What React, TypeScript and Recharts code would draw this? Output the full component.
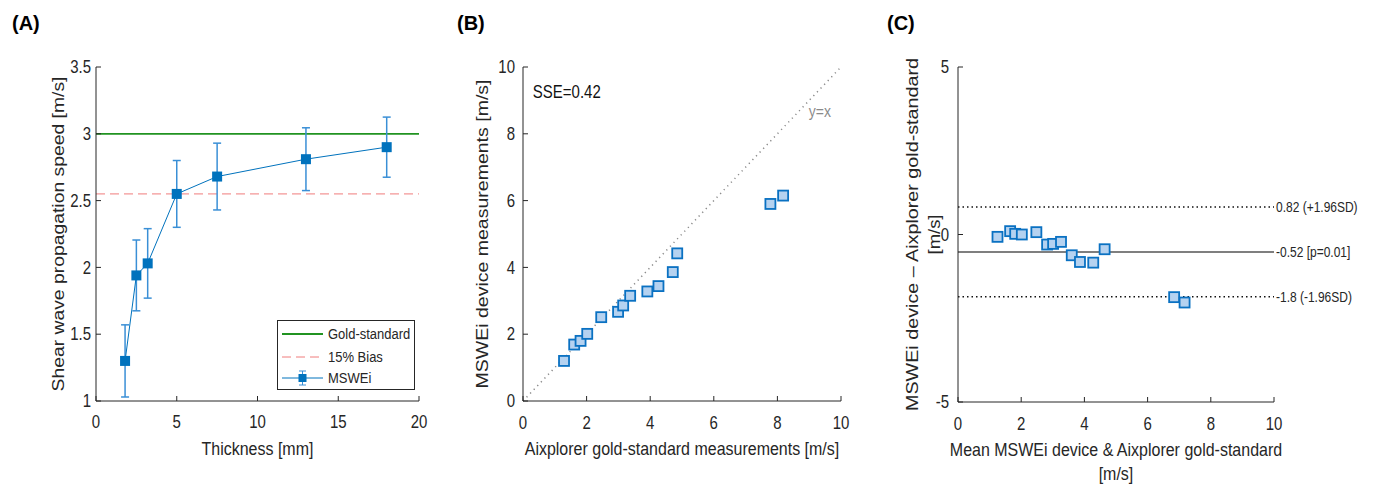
import React from 'react';
import {
  ComposedChart, ScatterChart, Line, Scatter, XAxis, YAxis, ErrorBar,
  ReferenceLine, ReferenceDot, Legend, Label,
} from 'recharts';

// (A) thickness study
const thickness = [1.8, 2.5, 3.2, 5, 7.5, 13, 18];
const mswSpeed = [1.3, 1.94, 2.03, 2.55, 2.68, 2.81, 2.9];
const mswErr = [0.27, 0.265, 0.26, 0.25, 0.25, 0.235, 0.225];
const goldSpeed = 3.0;
const biasSpeed = 2.55;
const ticksAX = [0, 5, 10, 15, 20];
const ticksAY = [1, 1.5, 2, 2.5, 3, 3.5];

// (B) agreement with Aixplorer
const aixplorer = [1.29, 1.61, 1.81, 2.02, 2.46, 2.99, 3.15, 3.37, 3.91, 4.26, 4.71, 4.85, 7.78, 8.18];
const mswei = [1.2, 1.69, 1.8, 2.01, 2.51, 2.67, 2.86, 3.15, 3.28, 3.44, 3.86, 4.42, 5.9, 6.15];
const ticksB = [0, 2, 4, 6, 8, 10];

// (C) Bland-Altman
const baMean = [1.25, 1.65, 1.81, 2.02, 2.48, 2.82, 3.01, 3.26, 3.6, 3.86, 4.28, 4.64, 6.84, 7.17];
const baDiff = [-0.07, 0.1, 0.02, 0, 0.07, -0.3, -0.28, -0.22, -0.62, -0.82, -0.84, -0.44, -1.87, -2.03];
const baBias = -0.52;
const baUpper = 0.82;
const baLower = -1.86;
const ticksCY = [-5, 0, 5];

const INK = '#262626';
const BLUE = '#0072BD';
const SY = 1.18; // source figure is stretched vertically

const dataA = thickness.map((x, i) => ({ x, y: mswSpeed[i], err: mswErr[i] }));
const dataB = aixplorer.map((x, i) => ({ x, y: mswei[i] }));
const dataC = baMean.map((x, i) => ({ x, y: baDiff[i] }));

const stretch = (y: number) => `translate(0 ${y}) scale(1 ${SY}) translate(0 ${-y})`;

const BottomTick = (p: any) => (
  <text x={p.x} y={p.y} dy="0.71em" textAnchor="middle" fill={INK} fontSize={15} transform={stretch(p.y)}>
    {p.payload.value}
  </text>
);
const LeftTick = (p: any) => (
  <text x={p.x} y={p.y} dy="0.355em" textAnchor="end" fill={INK} fontSize={15} transform={stretch(p.y)}>
    {p.payload.value}
  </text>
);

const Square = (p: any) => (
  <rect x={p.cx - 5} y={p.cy - 5} width={10} height={10} fill="#b5d2f0" stroke="#0a71c2" strokeWidth={1.8} />
);

const xTitle = (lines: string[], baselines: number[]) => (props: any) => {
  const vb = props.viewBox;
  const cx = vb.x + vb.width / 2;
  return (
    <g>
      {lines.map((t, i) => {
        const y = vb.y + baselines[i];
        return (
          <text key={i} x={cx} y={y} textAnchor="middle" fontSize={16} fill={INK} transform={stretch(y)}>{t}</text>
        );
      })}
    </g>
  );
};

const yTitle = (lines: string[], xs: number[], lengths: number[]) => (props: any) => {
  const vb = props.viewBox;
  const cy = vb.y + vb.height / 2;
  return (
    <g>
      {lines.map((t, i) => {
        const cx = vb.x + xs[i];
        return (
          <text key={i} x={cx} y={cy} dy="0.35em" transform={`rotate(-90 ${cx} ${cy})`} textAnchor="middle"
            fontSize={16.5} fill={INK} textLength={lengths[i]} lengthAdjust="spacingAndGlyphs">{t}</text>
        );
      })}
    </g>
  );
};

const sideText = (value: string, size: number, fill: string, dx = 0) => (props: any) => {
  const vb = props.viewBox;
  const x = vb.x + vb.width + dx;
  const y = vb.y + vb.height / 2;
  return <text x={x} y={y} dy="0.355em" fontSize={size} fill={fill} transform={stretch(y)}>{value}</text>;
};

const legendItems = ['Gold-standard', '15% Bias', 'MSWEi'];
const legendRows = [14, 37, 58];

const LegendA = () => (
  <svg width={138} height={70} style={{ display: 'block' }}>
    <rect x={0.5} y={0.5} width={137} height={69} fill="#fff" stroke={INK} />
    <line x1={5} x2={46} y1={14} y2={14} stroke="#219321" strokeWidth={1.8} />
    <line x1={5} x2={46} y1={37} y2={37} stroke="#f07c7c" strokeDasharray="9 5" />
    <line x1={5} x2={46} y1={58} y2={58} stroke={BLUE} />
    <line x1={25.5} x2={25.5} y1={51} y2={65} stroke="#3a8fd6" />
    <line x1={22} x2={29} y1={51} y2={51} stroke="#3a8fd6" />
    <line x1={22} x2={29} y1={65} y2={65} stroke="#3a8fd6" />
    <rect x={21.5} y={54} width={8} height={8} fill={BLUE} />
    {legendItems.map((t, i) => (
      <text key={t} x={51} y={legendRows[i]} dy="0.355em" fontSize={13} fill={INK} transform={stretch(legendRows[i])}>{t}</text>
    ))}
  </svg>
);

function PanelA() {
  return (
    <ComposedChart width={450} height={487} data={dataA} margin={{ top: 67, right: 31, bottom: 26, left: 0 }}>
      <XAxis dataKey="x" type="number" domain={[0, 20]} ticks={ticksAX} height={60} stroke={INK}
        tickSize={-5} tickMargin={19} tick={BottomTick}>
        <Label content={xTitle(['Thickness [mm]'], [54])} />
      </XAxis>
      <XAxis xAxisId="top" orientation="top" type="number" domain={[0, 20]} ticks={ticksAX} height={0}
        stroke={INK} tickSize={-5} tick={false} />
      <YAxis type="number" domain={[1, 3.5]} ticks={ticksAY} width={96} stroke={INK}
        tickSize={-5} tickMargin={10} tick={LeftTick}>
        <Label content={yTitle(['Shear wave propagation speed [m/s]'], [58], [315])} />
      </YAxis>
      <YAxis yAxisId="right" orientation="right" type="number" domain={[1, 3.5]} ticks={ticksAY} width={0}
        stroke={INK} tickSize={-5} tick={false} />
      <ReferenceLine y={goldSpeed} stroke="#219321" strokeWidth={1.8} />
      <ReferenceLine y={biasSpeed} stroke="#f07c7c" strokeDasharray="9 5" />
      <Line dataKey="y" stroke={BLUE} strokeWidth={1} isAnimationActive={false}
        dot={(p: any) => <rect key={p.index} x={p.cx - 5} y={p.cy - 5} width={10} height={10} fill={BLUE} />}>
        <ErrorBar dataKey="err" width={4} stroke="#3a8fd6" direction="y" />
      </Line>
      <Legend content={LegendA} layout="vertical" align="center" verticalAlign="middle"
        wrapperStyle={{ left: 277, top: 320, width: 138, height: 70 }} />
    </ComposedChart>
  );
}

function PanelB() {
  return (
    <ScatterChart width={430} height={487} margin={{ top: 67, right: 39, bottom: 26, left: 0 }}>
      <XAxis dataKey="x" type="number" domain={[0, 10]} ticks={ticksB} height={60} stroke={INK}
        tickSize={-5} tickMargin={20} tick={BottomTick}>
        <Label content={xTitle(['Aixplorer gold-standard measurements [m/s]'], [54])} />
      </XAxis>
      <XAxis xAxisId="top" orientation="top" type="number" domain={[0, 10]} ticks={ticksB} height={0}
        stroke={INK} tickSize={-5} tick={false} />
      <YAxis dataKey="y" type="number" domain={[0, 10]} ticks={ticksB} width={73} stroke={INK}
        tickSize={-5} tickMargin={13} tick={LeftTick}>
        <Label content={yTitle(['MSWEi device measurements  [m/s]'], [32], [309])} />
      </YAxis>
      <YAxis yAxisId="right" orientation="right" type="number" domain={[0, 10]} ticks={ticksB} width={0}
        stroke={INK} tickSize={-5} tick={false} />
      <ReferenceLine segment={[{ x: 0, y: 0 }, { x: 10, y: 10 }]} stroke="#8a8a8a" strokeDasharray="1.2 4" strokeWidth={1.5} />
      <ReferenceDot x={0.31} y={9.25} r={0} fill="none" stroke="none" label={sideText('SSE=0.42', 15, '#111')} />
      <ReferenceDot x={8.99} y={8.68} r={0} fill="none" stroke="none" label={sideText('y=x', 14, '#8a8a8a')} />
      <Scatter data={dataB} shape={Square} isAnimationActive={false} />
    </ScatterChart>
  );
}

function PanelC() {
  return (
    <ScatterChart width={495} height={487} margin={{ top: 67, right: 101, bottom: 25, left: 0 }}>
      <XAxis dataKey="x" type="number" domain={[0, 10]} ticks={ticksB} height={60} stroke={INK}
        tickSize={-5} tickMargin={20} tick={BottomTick}>
        <Label content={xTitle(['Mean MSWEi device & Aixplorer gold-standard', '[m/s]'], [54, 78])} />
      </XAxis>
      <XAxis xAxisId="top" orientation="top" type="number" domain={[0, 10]} ticks={ticksB} height={0}
        stroke={INK} tickSize={-5} tick={false} />
      <YAxis dataKey="y" type="number" domain={[-5, 5]} ticks={ticksCY} width={78} stroke={INK}
        tickSize={-5} tickMargin={14} tick={LeftTick}>
        <Label content={yTitle(['MSWEi device \u2013 Aixplorer gold-standard', '[m/s]'], [32, 54], [353, 40])} />
      </YAxis>
      <YAxis yAxisId="right" orientation="right" type="number" domain={[-5, 5]} ticks={ticksCY} width={0}
        stroke={INK} tickSize={-5} tick={false} />
      <ReferenceLine y={baUpper} stroke="#111" strokeDasharray="1.5 3" strokeWidth={1.5}
        label={sideText('0.82 (+1.96SD)', 12, INK, 2)} />
      <ReferenceLine y={baBias} stroke="#555" strokeWidth={1.5}
        label={sideText('-0.52 [p=0.01]', 12, INK, 2)} />
      <ReferenceLine y={baLower} stroke="#111" strokeDasharray="1.5 3" strokeWidth={1.5}
        label={sideText('-1.8 (-1.96SD)', 12, INK, 2)} />
      <Scatter data={dataC} shape={Square} isAnimationActive={false} />
    </ScatterChart>
  );
}

const titleStyle: React.CSSProperties = {
  position: 'absolute', top: 13, fontSize: 20, lineHeight: '20px', fontWeight: 700, color: '#000',
};

export default function App() {
  return (
    <div style={{
      position: 'absolute', left: 0, top: 0, width: 1375, height: 487, background: '#fff',
      fontFamily: '"Liberation Sans", Arial, sans-serif', overflow: 'hidden',
    }}>
      <div style={{ position: 'absolute', left: 0, top: 0 }}><PanelA /></div>
      <div style={{ position: 'absolute', left: 450, top: 0 }}><PanelB /></div>
      <div style={{ position: 'absolute', left: 880, top: 0 }}><PanelC /></div>
      <div style={{ ...titleStyle, left: 12 }}>(A)</div>
      <div style={{ ...titleStyle, left: 457 }}>(B)</div>
      <div style={{ ...titleStyle, left: 887 }}>(C)</div>
    </div>
  );
}
